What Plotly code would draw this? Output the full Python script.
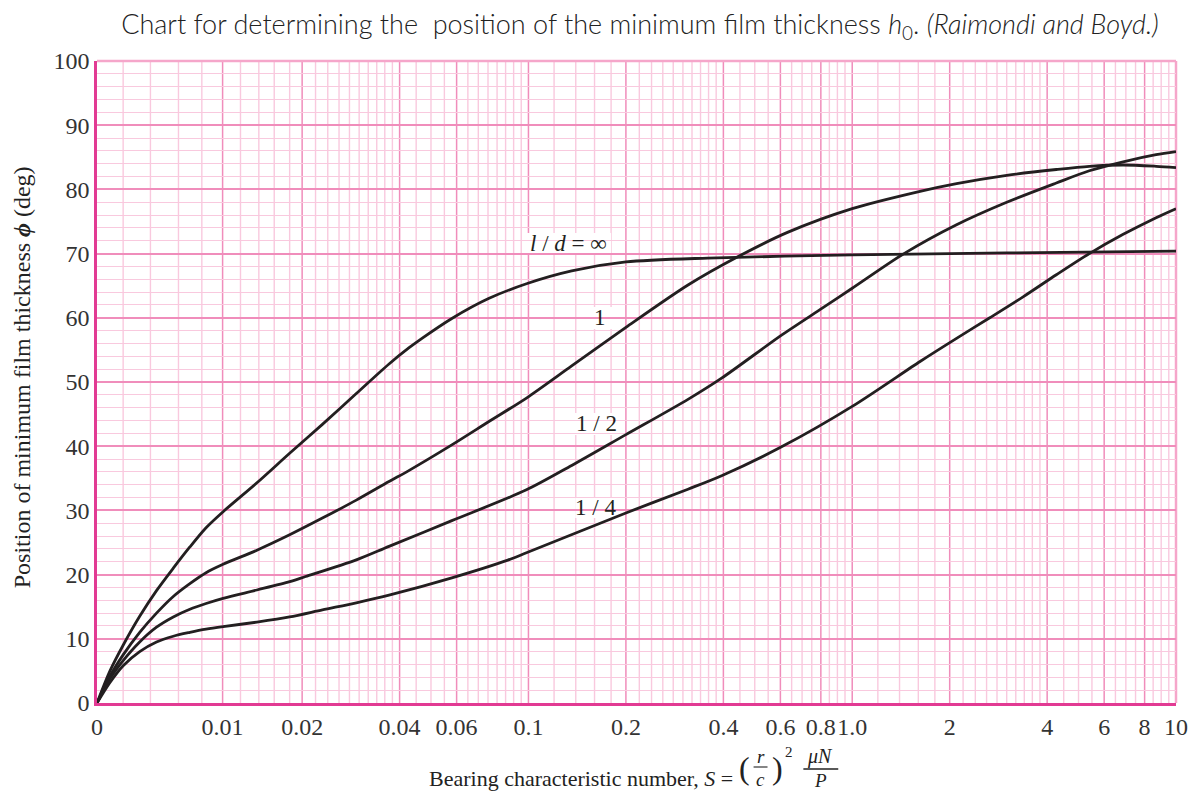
import numpy as np
import plotly.graph_objects as go

# ---------------- data ----------------
# Bearing characteristic number S and position of minimum film thickness phi (deg)
S_INF = [0.00465, 0.0051, 0.0056, 0.0063, 0.0071, 0.0080, 0.0090, 0.0101, 0.0114, 0.0145,
         0.0183, 0.0231, 0.0294, 0.0371, 0.0427, 0.0469, 0.058, 0.0753, 0.0986, 0.136,
         0.2, 0.358, 1.0, 3.0, 10]
PHI_INF = [0, 5.0, 9.0, 13.5, 17.5, 21.0, 24.3, 27.3, 29.8, 34.3,
           38.9, 43.4, 48.2, 52.8, 55.3, 56.8, 59.9, 63.0, 65.3, 67.3,
           68.7, 69.3, 69.8, 70.1, 70.4]

S_1 = [0.00465, 0.0051, 0.0056, 0.0063, 0.0071, 0.0080, 0.0090, 0.0101, 0.0114, 0.0145,
       0.0183, 0.0231, 0.0294, 0.0371, 0.0427, 0.058, 0.0753, 0.0986, 0.136, 0.2,
       0.311, 0.443, 0.631, 1.0, 1.62, 2.1, 3.0, 4.27, 5.4, 6.87, 8.68, 10]
PHI_1 = [0, 4.2, 7.5, 11.0, 14.0, 16.6, 18.6, 20.3, 21.6, 23.8,
         26.2, 28.8, 31.6, 34.5, 36.2, 40.2, 43.8, 47.5, 52.5, 58.5,
         65.1, 69.5, 73.3, 77.0, 79.7, 80.9, 82.2, 83.1, 83.6, 83.8, 83.6, 83.4]

S_HALF = [0.00465, 0.0051, 0.0056, 0.0063, 0.0071, 0.0080, 0.0090, 0.0101, 0.0114, 0.0145,
          0.0183, 0.0205, 0.0294, 0.0371, 0.058, 0.0986, 0.136, 0.2, 0.311, 0.395,
          0.605, 0.808, 1.0, 1.445, 2.1, 3.0, 4.27, 5.4, 6.87, 8.68, 10]
PHI_HALF = [0, 3.8, 6.6, 9.5, 11.8, 13.4, 14.6, 15.5, 16.3, 17.6,
            18.9, 19.7, 22.3, 24.4, 28.4, 33.2, 37.0, 41.8, 47.3, 50.6,
            57.3, 61.5, 64.6, 70.0, 74.5, 78.0, 81.0, 82.9, 84.3, 85.4, 85.9]

S_QUARTER = [0.00465, 0.0051, 0.0056, 0.0063, 0.0071, 0.0080, 0.0090, 0.0101, 0.0114, 0.0145,
             0.0183, 0.0231, 0.0294, 0.0371, 0.058, 0.0868, 0.0986, 0.2, 0.311, 0.395,
             0.605, 1.0, 1.62, 2.1, 2.66, 3.38, 4.27, 5.4, 6.87, 8.68, 10]
PHI_QUARTER = [0, 3.2, 5.8, 8.0, 9.5, 10.4, 11.0, 11.5, 11.9, 12.6,
               13.4, 14.5, 15.6, 16.8, 19.5, 22.3, 23.4, 29.6, 33.3, 35.4,
               39.9, 46.2, 53.2, 56.8, 60.0, 63.3, 66.7, 70.0, 73.0, 75.6, 77.0]

CURVE_LABELS = ["<i>l</i> / <i>d</i> = ∞", "1", "1 / 2", "1 / 4"]

X_TICK_VALS = [0.00465, 0.01136, 0.02, 0.04, 0.06, 0.1, 0.2, 0.4, 0.6, 0.8, 1, 2, 4, 6, 8, 10]
X_TICK_TEXT = ["0", "0.01", "0.02", "0.04", "0.06", "0.1", "0.2", "0.4", "0.6", "0.8", "1.0",
               "2", "4", "6", "8", "10"]
Y_TICK_VALS = list(range(0, 101, 10))

# ---------------- styling ----------------
INK = "#231F20"
MAJOR = "#F08DBB"
MINOR = "#F9C9DE"
AXIS = "#E23A93"
SERIF = "Liberation Serif, Times New Roman, serif"

x_minor = ([0.0056, 0.0068, 0.0083, 0.0098, 0.0129, 0.0147, 0.0164, 0.0183]
           + [round(0.02 + 0.002 * k, 4) for k in range(1, 10)]
           + [0.045, 0.05, 0.055]
           + [round(0.06 + 0.005 * k, 4) for k in range(1, 8)]
           + [0.12, 0.14, 0.16, 0.18]
           + [round(0.2 + 0.02 * k, 3) for k in range(1, 10)]
           + [0.45, 0.5, 0.55, 0.65, 0.7, 0.75, 0.85, 0.9, 0.95]
           + [1.2, 1.4, 1.6, 1.8]
           + [round(2 + 0.2 * k, 2) for k in range(1, 10)]
           + [4.5, 5, 5.5, 6.5, 7, 7.5, 8.5, 9, 9.5])

# page geometry (the html page adds an 8px body margin)
OFF = 8
L, T, W, H = 97, 61, 1083, 642
FIG_W, FIG_H = 1200 - OFF, 793 - OFF


def px(x):
    return (x - L) / W


def py(y):
    return (T + H - y) / H


fig = go.Figure()

# vertical graph-paper grid (minor then major), drawn below the curves
for v in x_minor:
    fig.add_shape(type="line", xref="x", yref="paper", x0=v, x1=v, y0=0, y1=1,
                  line=dict(color=MINOR, width=1.4), layer="below")
for v in X_TICK_VALS[1:-1]:
    fig.add_shape(type="line", xref="x", yref="paper", x0=v, x1=v, y0=0, y1=1,
                  line=dict(color=MAJOR, width=1.5), layer="below")

# white patches behind the curve labels (they hide the grid, not the curves)
for x0, x1, y0, y1 in [(528, 613, 233, 255), (591, 614, 307, 329),
                       (575, 620, 413, 435), (577, 619, 497, 518)]:
    fig.add_shape(type="rect", xref="paper", yref="paper", x0=px(x0), x1=px(x1),
                  y0=py(y1), y1=py(y0), fillcolor="white", line=dict(width=0),
                  layer="below")

for xs, ys in [(S_INF, PHI_INF), (S_1, PHI_1), (S_HALF, PHI_HALF), (S_QUARTER, PHI_QUARTER)]:
    fig.add_trace(go.Scatter(x=xs, y=ys, mode="lines",
                             line=dict(color=INK, width=2.8, shape="spline", smoothing=0.8),
                             hoverinfo="skip", showlegend=False))

# curve labels (annotation x on a log axis is given in log10 units)
label_pos = [(0.1327, 71.6), (0.1667, 60.0), (0.1619, 43.5), (0.1615, 30.4)]
for (lx, ly), txt in zip(label_pos, CURVE_LABELS):
    fig.add_annotation(x=np.log10(lx), y=ly, xref="x", yref="y", text=txt, showarrow=False,
                       xanchor="center", yanchor="middle",
                       font=dict(family=SERIF, size=23, color=INK))

# y axis title
fig.add_annotation(x=px(22), y=py(377), xref="paper", yref="paper", textangle=-90,
                   xanchor="center", yanchor="middle",
                   text="Position of minimum film thickness <b><i>ϕ</i></b> (deg)",
                   showarrow=False, font=dict(family=SERIF, size=24, color="#222"))

# x axis title:  S = (r/c)^2 muN/P
fig.add_annotation(x=px(737), y=py(778), xref="paper", yref="paper",
                   xanchor="right", yanchor="middle",
                   text="Bearing characteristic number, <i>S</i> =", showarrow=False,
                   font=dict(family=SERIF, size=22, color="#222"))
for t, xx, yy, sz in [("(", 747, 768, 32), (")", 780, 768, 32), ("<i>r</i>", 763, 756, 19),
                      ("<i>c</i>", 763, 779, 19), ("2", 792, 752, 15),
                      ("<i>μN</i>", 823, 757, 20), ("<i>P</i>", 823, 780, 19)]:
    fig.add_annotation(x=px(xx), y=py(yy), xref="paper", yref="paper", text=t,
                       xanchor="center", yanchor="middle",
                       showarrow=False, font=dict(family=SERIF, size=sz, color="#222"))
fig.add_shape(type="line", xref="paper", yref="paper", x0=px(806), x1=px(841),
              y0=py(769), y1=py(769), line=dict(color="#222", width=1.3))
fig.add_shape(type="line", xref="paper", yref="paper", x0=px(756), x1=px(770),
              y0=py(767), y1=py(767), line=dict(color="#222", width=1.1))

# top / right light border
fig.add_shape(type="line", xref="paper", yref="paper", x0=0, x1=1, y0=1, y1=1,
              line=dict(color="#F5A6CA", width=2.5), layer="below")
fig.add_shape(type="line", xref="paper", yref="paper", x0=1, x1=1, y0=0, y1=1,
              line=dict(color="#F5A6CA", width=2.5), layer="below")

fig.update_layout(
    width=FIG_W, height=FIG_H,
    margin=dict(l=L - OFF, r=FIG_W - (L - OFF) - W, t=T - OFF, b=FIG_H - (T - OFF) - H),
    paper_bgcolor="white", plot_bgcolor="white",
    title=dict(text="Chart for determining the  position of the minimum film thickness "
                    "<i>h</i><sub>0</sub>. <i>(Raimondi and Boyd.)</i>",
               x=(640 - OFF) / FIG_W, xanchor="center",
               y=1 - (25 - OFF) / FIG_H, yanchor="middle",
               font=dict(family="Lato, Open Sans, sans-serif", size=27, color="#222",
                         weight=300)),
    xaxis=dict(type="log", range=[np.log10(0.00465), 1], tickmode="array",
               tickvals=X_TICK_VALS, ticktext=X_TICK_TEXT, tickangle=0,
               showgrid=False,
               showline=True, linecolor=AXIS, linewidth=2.5, ticks="", zeroline=False,
               tickfont=dict(family=SERIF, size=24, color="#333")),
    yaxis=dict(range=[0, 100], tickmode="array", tickvals=Y_TICK_VALS,
               showgrid=True, gridcolor=MAJOR, gridwidth=1.5,
               minor=dict(dtick=2, showgrid=True, gridcolor=MINOR, gridwidth=1.4, ticks=""),
               showline=True, linecolor=AXIS, linewidth=2.5, ticks="", zeroline=False,
               tickfont=dict(family=SERIF, size=24, color="#333")),
)

fig.write_html("out.html")
